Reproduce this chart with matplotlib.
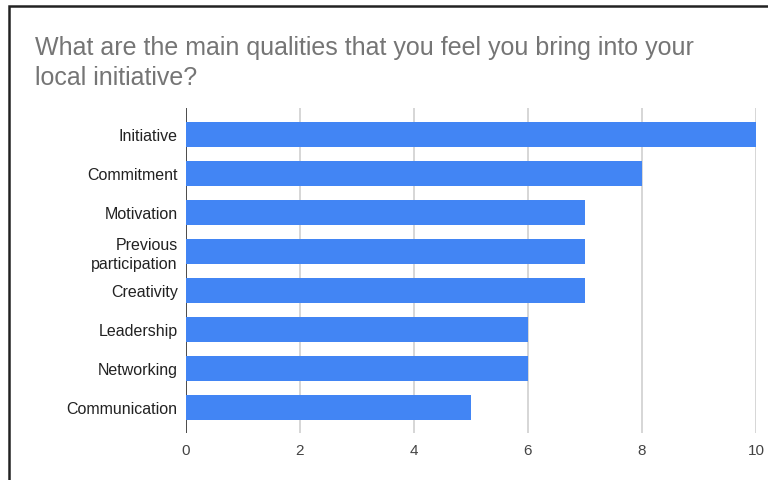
import matplotlib.pyplot as plt
from matplotlib.patches import Rectangle

plt.rcParams['font.family'] = ['Liberation Sans', 'DejaVu Sans']

categories = ['Initiative', 'Commitment', 'Motivation', 'Previous\nparticipation',
              'Creativity', 'Leadership', 'Networking', 'Communication']
counts = [10, 8, 7, 7, 7, 6, 6, 5]
xticks = [0, 2, 4, 6, 8, 10]

fig = plt.figure(figsize=(7.68, 4.8), dpi=100)
ax = fig.add_axes([186/768, 1 - 433/480, 570/768, 325/480])

pos = list(range(len(categories)))
ax.barh(pos, counts, height=0.64, color='#4285F4', zorder=3)

ax.set_xlim(0, 10)
ax.set_ylim(7.65, -0.68)
ax.set_xticks(xticks)
ax.set_yticks(pos)
ax.set_yticklabels(categories, fontsize=11.5, color='#222222', linespacing=1.3)
ax.tick_params(axis='x', labelsize=11, labelcolor='#444444', length=0, pad=8)
ax.tick_params(axis='y', length=0, pad=6)
ax.grid(axis='x', color='#d0d0d0', linewidth=1.2, zorder=0)
for s in ax.spines.values():
    s.set_visible(False)
ax.axvline(0, color='#333333', linewidth=1.2, zorder=2)

# title
fig.text(35/768, 1 - 63/480, 'What are the main qualities that you feel you bring into your\nlocal initiative?',
         fontsize=18, color='#757575', va='center', ha='left', linespacing=1.35)

# frame around the chart
fig.patches.append(Rectangle((9/768, -0.1), 1.2, 1 - 6/480 + 0.1, transform=fig.transFigure,
                             fill=False, edgecolor='#222222', linewidth=1.8))

fig.savefig('out.png', dpi=100)
